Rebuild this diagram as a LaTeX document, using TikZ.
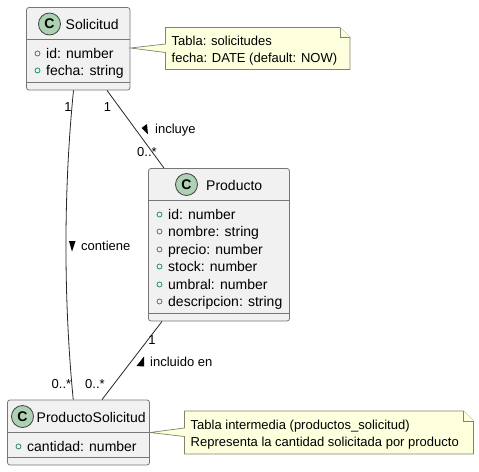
\documentclass[tikz,border=0pt]{standalone}
\usepackage{fontspec}
\setmainfont{Liberation Sans}
\usepackage{xcolor}
\usetikzlibrary{positioning, calc}
\definecolor{ClassFill}{RGB}{241,241,241}
\definecolor{ClassBorder}{RGB}{118,118,118}
\definecolor{IconFill}{RGB}{173,209,178}
\definecolor{AttrGreen}{RGB}{38,140,100}
\definecolor{NoteFill}{RGB}{254,255,221}
\definecolor{NoteBorder}{RGB}{130,130,110}
\tikzset{
  classbox/.style={draw=ClassBorder, fill=ClassFill, rounded corners=2.5pt, line width=0.8pt, inner sep=0pt},
  classname/.style={font=\fontsize{14}{16}\selectfont, inner sep=0pt, anchor=base west},
  attr/.style={font=\fontsize{14}{16}\selectfont, inner sep=0pt, anchor=base west},
  attrdot/.style={circle, draw=AttrGreen, line width=0.8pt, fill=none, minimum size=5pt, inner sep=0pt},
  icon/.style={circle, draw=black!75, fill=IconFill, line width=0.8pt, minimum size=22pt, inner sep=0pt, font=\fontsize{14}{14}\bfseries\selectfont},
  notetext/.style={font=\fontsize{13}{15}\selectfont, inner sep=0pt, anchor=base west},
  lbl/.style={font=\fontsize{13}{14}\selectfont, inner sep=0pt},
  rel/.style={draw=black!85, line width=0.8pt},
  notebody/.style={draw=NoteBorder, fill=NoteFill, line width=0.7pt, line join=miter},
  tri/.style={fill=black, draw=none}
}
\begin{document}
\begin{tikzpicture}[x=1pt, y=-1pt]
  \useasboundingbox (0,0) rectangle (479,471);
  % classes
  \node[classbox, minimum width=103.5pt, minimum height=82.5pt] (Solicitud) at (78.25,48.75) {};
  \node[classbox, minimum width=141pt, minimum height=152.5pt] (Producto) at (219,244.75) {};
  \node[classbox, minimum width=142pt, minimum height=65pt] (ProductoSolicitud) at (78.5,432.5) {};
  % dividers
  \draw[draw=ClassBorder, line width=0.8pt] (26.5,39.5) -- (130,39.5) (26.5,82) -- (130,82);
  \draw[draw=ClassBorder, line width=0.8pt] (148.5,200.5) -- (289.5,200.5) (148.5,313) -- (289.5,313);
  \draw[draw=ClassBorder, line width=0.8pt] (7.5,432.5) -- (149.5,432.5) (7.5,457) -- (149.5,457);
  % headers
  \node[icon] (iconSolicitud) at (49.5,24) {C};
  \node[classname] (nameSolicitud) at (65.5,29) {Solicitud};
  \node[icon] (iconProducto) at (186.5,184.5) {C};
  \node[classname] (nameProducto) at (206,190) {Producto};
  \node[icon] (iconProductoSolicitud) at (22.5,416.5) {C};
  \node[classname] (nameProductoSolicitud) at (36.5,422) {ProductoSolicitud};
  % attributes
  \foreach \name/\px/\py/\txt in {a/37.5/58/{id: number}, b/37.5/75/{fecha: string},
      c/159.5/219/{id: number}, d/159.5/236/{nombre: string}, e/159.5/254/{precio: number},
      f/159.5/271/{stock: number}, g/159.5/289/{umbral: number}, h/159.5/306/{descripcion: string},
      i/18.5/451/{cantidad: number}} {
    \node[attrdot] (dot\name) at (\px,\py-4.5) {};
    \node[attr] (attr\name) at (\px+8.5,\py) {\txt};
  }
  % notes
  \draw[notebody] (165.5,27.5) -- (340,27.5) -- (350,37.5) -- (350,69.5) -- (165.5,69.5) -- (165.5,52.5)
    -- (Solicitud.east |- 0,48) -- (165.5,44) -- cycle;
  \draw[notebody] (340,27.5) -- (340,37.5) -- (350,37.5);
  \node[notetext] (noteSolicitudA) at (171.5,45) {Tabla: solicitudes};
  \node[notetext] (noteSolicitudB) at (171.5,62) {fecha: DATE (default: NOW)};
  \draw[notebody] (184.5,411) -- (463.5,411) -- (473.5,421) -- (473.5,454) -- (184.5,454) -- (184.5,436.5)
    -- (ProductoSolicitud.east |- 0,432.5) -- (184.5,428) -- cycle;
  \draw[notebody] (463.5,411) -- (463.5,421) -- (473.5,421);
  \node[notetext] (noteIntermediaA) at (190.5,429) {Tabla intermedia (productos\_solicitud)};
  \node[notetext] (noteIntermediaB) at (190.5,446) {Representa la cantidad solicitada por producto};
  % relations
  \draw[rel] ([xshift=-4.75pt]Solicitud.south) .. controls (63.5,190) and (63.5,300) .. ([xshift=-5.25pt]ProductoSolicitud.north);
  \draw[rel] ([xshift=28.75pt]Solicitud.south) -- ([xshift=-55pt]Producto.north);
  \draw[rel] ([xshift=-57pt]Producto.south) -- ([xshift=23.5pt]ProductoSolicitud.north);
  % labels
  \node[lbl] (oneA) at (68,107) {1};
  \node[lbl] (oneB) at (107.5,107) {1};
  \node[lbl] (manyA) at (147,152.5) {0..*};
  \node[lbl, anchor=west] (incluye) at (155,130) {incluye};
  \fill[tri] (141.5,128) -- (147,124) -- (148,134.5) -- cycle;
  \node[lbl, anchor=west] (contiene) at (81,245.5) {contiene};
  \fill[tri] (72,251.5) -- (69,241) -- (75.5,241) -- cycle;
  \node[lbl] (oneC) at (152,340) {1};
  \node[lbl, anchor=west] (incluido) at (150,362) {incluido en};
  \fill[tri] (136.5,366) -- (144,356.5) -- (144,366.5) -- cycle;
  \node[lbl] (manyB) at (61.5,384) {0..*};
  \node[lbl] (manyC) at (95,384) {0..*};
\end{tikzpicture}
\end{document}
